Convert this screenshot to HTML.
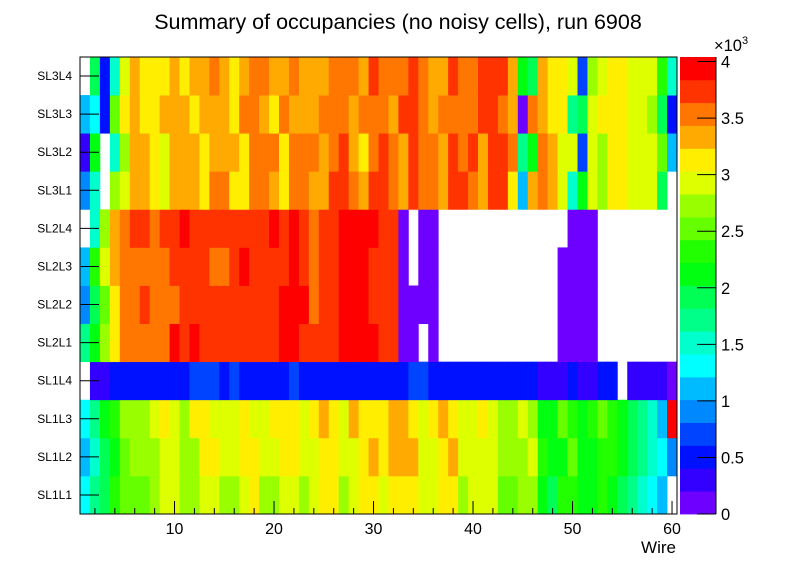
<!DOCTYPE html>
<html><head><meta charset="utf-8">
<style>
html,body{margin:0;padding:0;background:#fff;}
svg{display:block;font-family:"Liberation Sans",Arial,sans-serif;}
</style></head>
<body>
<svg id="chart" width="796" height="572" viewBox="0 0 796 572" xmlns="http://www.w3.org/2000/svg">
<rect width="796" height="572" fill="#fff"/>
<text x="398" y="29" font-size="21.5" text-anchor="middle">Summary of occupancies (no noisy cells), run 6908</text>
<g id="cells"></g>
<g id="axes"></g>
<g id="palette"></g>
<text x="676" y="553" font-size="17" text-anchor="end">Wire</text>
</svg>
<script>
const layers = ["SL1L1","SL1L2","SL1L3","SL1L4","SL2L1","SL2L2","SL2L3","SL2L4","SL3L1","SL3L2","SL3L3","SL3L4"];
const xTicks = [10,20,30,40,50,60];
const zTicks = [0,0.5,1,1.5,2,2.5,3,3.5,4];
const levelColors = ["#6e00ff","#3300ff","#0011ff","#0044ff","#0088ff","#00bbff","#00ffff","#00ffcc","#00ff88","#00ff55","#00ff11","#22ff00","#66ff00","#99ff00","#ddff00","#ffee00","#ffaa00","#ff7700","#ff3300","#ff0000"];
const sl1l1 = [1300,1700,1900,2300,2500,2500,2500,2700,2900,2900,2700,2700,2900,2900,2700,2700,2900,3100,2700,2700,2900,2900,2700,2900,3100,3100,2700,2900,3100,3100,2900,3100,3100,3100,2900,2900,3100,3100,2700,2900,2900,2900,2500,2500,2700,2700,2100,1900,2300,2300,2100,2100,2300,2100,1900,1700,1500,1300,1100,0];
const sl1l2 = [1100,1500,1900,2100,2500,2700,2700,2700,2900,2900,2700,2700,3100,3100,2900,2900,3100,3100,2900,2900,3100,3100,2900,2900,3100,3100,2900,2900,3100,3300,3100,3300,3300,3300,2900,2900,3100,3300,2900,2900,2900,2900,2700,2700,2700,2900,2300,2100,2100,2500,2100,2100,2300,2300,2100,1900,1700,1500,1300,900];
const sl1l3 = [1300,1700,2100,2300,2700,2700,2700,2900,3100,2900,2700,3100,3100,2900,2900,2900,3100,2900,2900,3100,3100,3100,2900,3100,3300,3100,2900,3300,3100,3100,3100,3300,3300,3100,2900,3100,3300,3100,2900,2900,3100,2900,2700,2700,2900,2700,2100,2100,2500,2300,2100,2300,2500,2300,2100,1900,1700,1500,1100,3900];
const sl1l4 = [0,300,300,500,500,500,500,500,500,500,500,700,700,700,500,700,500,500,500,500,500,700,500,500,500,500,500,500,500,500,500,500,500,700,700,500,500,500,500,500,500,500,500,500,500,500,300,300,300,500,300,300,500,500,0,300,300,300,300,100];
const sl2l1 = [1700,2100,2700,3100,3500,3500,3500,3500,3500,3900,3700,3900,3700,3700,3700,3700,3700,3700,3700,3700,3900,3900,3700,3700,3700,3700,3900,3900,3900,3900,3700,3700,100,100,0,100,0,0,0,0,0,0,0,0,0,0,0,0,100,100,100,100,0,0,0,0,0,0,0,0];
const sl2l2 = [900,1900,2500,3100,3500,3500,3700,3500,3500,3500,3700,3700,3700,3700,3700,3700,3700,3700,3700,3700,3900,3900,3900,3500,3700,3700,3900,3900,3900,3700,3700,3700,100,100,100,100,0,0,0,0,0,0,0,0,0,0,0,0,100,100,100,100,0,0,0,0,0,0,0,0];
const sl2l3 = [1100,2300,2900,3300,3500,3500,3500,3500,3500,3700,3700,3700,3700,3500,3500,3700,3900,3700,3700,3700,3700,3900,3700,3500,3700,3700,3900,3900,3900,3700,3700,3700,100,0,100,100,0,0,0,0,0,0,0,0,0,0,0,0,100,100,100,100,0,0,0,0,0,0,0,0];
const sl2l4 = [0,1500,2700,3300,3500,3700,3700,3500,3700,3700,3900,3700,3700,3700,3700,3700,3700,3700,3700,3900,3700,3900,3700,3500,3700,3700,3900,3900,3900,3900,3700,3700,100,0,100,100,0,0,0,0,0,0,0,0,0,0,0,0,0,100,100,100,0,0,0,0,0,0,0,0];
const sl3l1 = [900,1500,0,2700,2900,3300,3300,3100,2900,3300,3300,3300,3100,3500,3500,3100,3100,3500,3500,3300,3100,3500,3500,3300,3300,3700,3700,3500,3300,3700,3700,3500,3300,3700,3500,3500,3300,3700,3700,3500,3300,3700,3700,3100,1100,3300,3500,3300,2900,1500,2100,2900,2700,3100,3100,2900,2900,2900,1900,0];
const sl3l2 = [300,2100,0,1500,2700,3300,3300,3100,2900,3300,3300,3300,3100,3300,3300,3300,3100,3500,3500,3500,3100,3500,3500,3500,3300,3500,3700,3300,3100,3500,3700,3500,3300,3700,3500,3500,3300,3700,3500,3700,3300,3700,3700,3500,1700,2100,3500,3300,2900,2900,700,2900,2700,3100,3100,2900,2900,2900,2500,1100];
const sl3l3 = [1100,1300,500,2500,3100,3300,3100,3100,3300,3300,3300,3100,3300,3300,3300,3100,3500,3500,3300,3100,3500,3300,3300,3300,3500,3500,3500,3300,3500,3500,3500,3300,3700,3700,3500,3300,3500,3500,3500,3500,3700,3700,3500,3300,100,3500,3300,3100,3100,1700,1900,2900,3100,3100,3100,2900,2900,2700,1900,500];
const sl3l4 = [0,1900,500,1500,2900,3300,3100,3100,3100,3300,3100,3300,3300,3500,3300,3100,3300,3500,3500,3300,3300,3500,3300,3300,3300,3500,3500,3500,3300,3700,3500,3500,3500,3700,3500,3300,3300,3700,3500,3500,3700,3700,3700,3300,2100,1900,3300,3100,3100,2900,700,2700,2900,3100,3100,2900,2900,2900,2300,1500];
const rows = [sl1l1,sl1l2,sl1l3,sl1l4,sl2l1,sl2l2,sl2l3,sl2l4,sl3l1,sl3l2,sl3l3,sl3l4];

const NS="http://www.w3.org/2000/svg";
const X0=80,X1=677,Y0=57,Y1=514;
const xMin=0.5,xMax=60.5,zMax=4040,nLev=20;
function xs(v){return X0+(v-xMin)/(xMax-xMin)*(X1-X0);}
function ys(i){return Y1-i*(Y1-Y0)/layers.length;}
function zs(v){return Y1-v/zMax*(Y1-Y0);}
function colorOf(v){let k=Math.floor(v/(zMax/nLev));if(k>nLev-1)k=nLev-1;if(k<0)k=0;return levelColors[k];}
function mk(tag,attrs,parent){const e=document.createElementNS(NS,tag);for(const k in attrs)e.setAttribute(k,attrs[k]);parent.appendChild(e);return e;}

const cells=document.getElementById('cells');
rows.forEach((row,r)=>{
  row.forEach((v,c)=>{
    if(v<=0)return;
    const w=c+1;
    const x=xs(w-0.5),x2=xs(w+0.5),y=ys(r+1),y2=ys(r);
    const el=mk('rect',{x:x.toFixed(2),y:y.toFixed(2),width:(x2-x+0.4).toFixed(2),height:(y2-y+0.4).toFixed(2),fill:colorOf(v)},cells);
    
    
  });
});

const axes=document.getElementById('axes');
const frame=mk('rect',{x:X0,y:Y0,width:X1-X0,height:Y1-Y0,fill:'none',stroke:'#000','stroke-width':1},axes);


for(let w=2;w<=60;w+=2){
  const major=w%10===0;
  const t=mk('line',{x1:xs(w),x2:xs(w),y1:Y1,y2:Y1-(major?13:6),stroke:'#000','stroke-width':1},axes);
  
  
}
xTicks.forEach(v=>{
  const t=mk('text',{x:xs(v),y:Y1+20,'font-size':16,'text-anchor':'middle'},axes);
  t.textContent=v;
  
  
});
layers.forEach((name,i)=>{
  const yc=(ys(i)+ys(i+1))/2;
  const t=mk('line',{x1:X0,x2:X0+19,y1:yc,y2:yc,stroke:'#000','stroke-width':1},axes);
  
  
  const l=mk('text',{x:72,y:yc+4,'font-size':12,'text-anchor':'end'},axes);
  l.textContent=name;
  
  
});

const pal=document.getElementById('palette');
const PX0=680,PX1=716;
levelColors.forEach((col,k)=>{
  const yTop=zs((k+1)*zMax/nLev),yBot=zs(k*zMax/nLev);
  const b=mk('rect',{x:PX0,y:yTop.toFixed(2),width:PX1-PX0,height:(yBot-yTop+0.4).toFixed(2),fill:col},pal);
  
  
});
const axl=mk('line',{x1:PX1,x2:PX1,y1:Y0,y2:Y1,stroke:'#000','stroke-width':1},pal);


zTicks.forEach(v=>{
  const y=zs(v*1000);
  const t=mk('line',{x1:PX1-19,x2:PX1,y1:y,y2:y,stroke:'#000','stroke-width':1},pal);
  
  
  const l=mk('text',{x:PX1+5,y:y+6,'font-size':16.5},pal);
  l.textContent=v;
  
  
});
const exp=mk('text',{x:714,y:51,'font-size':16.5},pal);
exp.innerHTML='×10<tspan dy="-7" font-size="11">3</tspan>';


</script>
</body></html>
